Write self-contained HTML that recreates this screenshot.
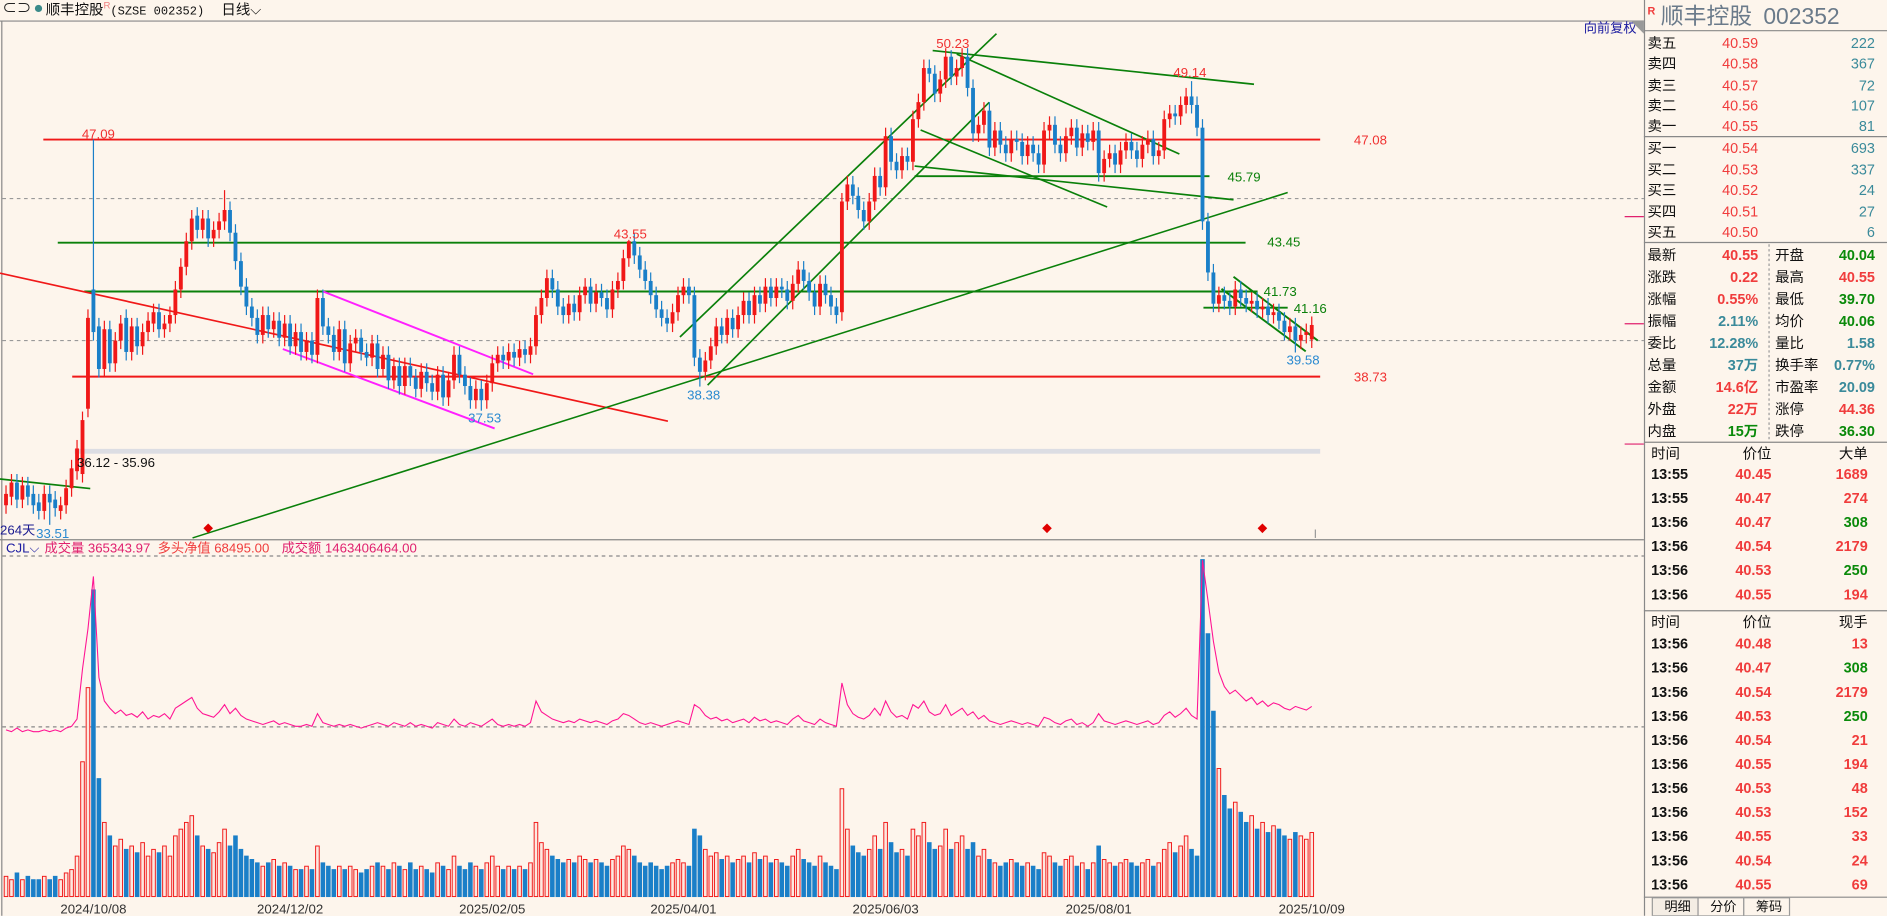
<!DOCTYPE html>
<html><head><meta charset="utf-8">
<style>
html,body{margin:0;padding:0;background:#fdf5ec;overflow:hidden;}
#wrap{width:1568px;height:761px;transform:scale(1.20344);transform-origin:0 0;position:relative;}
svg text{font-family:"Liberation Sans","Noto Sans CJK SC",sans-serif;}
</style></head>
<body>
<div id="wrap">
<svg id="chart" width="1568" height="761" xmlns="http://www.w3.org/2000/svg">
<rect x="0" y="0" width="1568" height="761" fill="#fdf5ec"/>
<g font-size="12">
 <text x="2" y="11" fill="#222">⊂⊃</text>
 <circle cx="32" cy="7" r="3" fill="#3a8a8a"/>
 <text x="38" y="12" fill="#111">顺丰控股<tspan fill="#f08080" font-size="8" dy="-5">R</tspan><tspan dy="5" font-family="Liberation Mono" font-size="10">(SZSE 002352)</tspan></text>
 <text x="184" y="12" fill="#111">日线⌵</text>
</g>
<line x1="0" y1="17.5" x2="1366" y2="17.5" stroke="#888"/>
<line x1="1.5" y1="17" x2="1.5" y2="761" stroke="#888"/>
<line x1="0" y1="448.5" x2="1366" y2="448.5" stroke="#888"/>
<line x1="2" y1="165" x2="1366" y2="165" stroke="#999" stroke-dasharray="3,3"/>
<line x1="2" y1="283" x2="1366" y2="283" stroke="#999" stroke-dasharray="3,3"/>
<line x1="2" y1="462" x2="1366" y2="462" stroke="#888" stroke-dasharray="3,3"/>
<line x1="2" y1="604" x2="1366" y2="604" stroke="#888" stroke-dasharray="3,3"/>
<text x="1316" y="27" font-size="11" fill="#1a1aa0">向前复权</text>
<polygon points="1356,18 1366,18 1366,28" fill="#999"/>
<rect x="62" y="373" width="1035" height="4" fill="#dcdde3"/>
<g id="lines"></g>
<g id="candles"></g>
<g id="labels" font-size="11"></g>
<g id="vol"></g>
<g font-size="11">
 <text x="5" y="459" fill="#1a1aa0">CJL⌵</text>
 <text x="37" y="459" fill="#e0206e">成交量 365343.97</text>
 <text x="131" y="459" fill="#f03c3c">多头净值 68495.00</text>
 <text x="234" y="459" fill="#e0206e">成交额 1463406464.00</text>
</g>
<g id="dates" font-size="11" fill="#333" text-anchor="middle"></g>
<g stroke="#e0206e">
 <line x1="1350" y1="180" x2="1366" y2="180"/><line x1="1350" y1="269" x2="1366" y2="269"/><line x1="1350" y1="369" x2="1366" y2="369"/>
</g>
<line x1="1093" y1="440" x2="1093" y2="447" stroke="#999"/>

<!-- Right panel -->
<g font-size="12">
 <line x1="1366.5" y1="0" x2="1366.5" y2="761" stroke="#888"/>
 <line x1="1366" y1="745.5" x2="1568" y2="745.5" stroke="#888"/>
 <text x="1369" y="12" fill="#f03c3c" font-size="9" font-weight="bold">R</text>
 <text x="1380" y="20" fill="#6a7a8a" font-size="19">顺丰控股 <tspan dx="4">002352</tspan></text>
 <line x1="1366" y1="25.5" x2="1568" y2="25.5" stroke="#888"/>
 <line x1="1366" y1="113.5" x2="1568" y2="113.5" stroke="#888"/>
 <line x1="1366" y1="201.5" x2="1568" y2="201.5" stroke="#888"/>
 <line x1="1366" y1="367.5" x2="1568" y2="367.5" stroke="#888"/>
 <line x1="1366" y1="507.5" x2="1568" y2="507.5" stroke="#888"/>
 <line x1="1470" y1="203" x2="1470" y2="367" stroke="#999" stroke-dasharray="2,2"/>
 <g id="book"></g>
 <g id="stats"></g>
 <g id="ticks"></g>
 <g font-size="11" fill="#111">
  <rect x="1373" y="746" width="38" height="15" fill="#f4ede4" stroke="#999"/>
  <text x="1383" y="757">明细</text>
  <rect x="1411" y="746" width="38" height="15" fill="#fdf5ec" stroke="#999"/>
  <text x="1421" y="757">分价</text>
  <rect x="1449" y="746" width="38" height="15" fill="#fdf5ec" stroke="#999"/>
  <text x="1459" y="757">筹码</text>
 </g>
</g>
</svg>
</div>
<script>
const closes=[34.6,35.0,34.4,34.9,34.5,34.2,34.0,34.6,34.3,34.1,34.2,
34.8,35.5,36.2,37.2,40.8,40.3,
39.0,40.4,39.2,40.0,40.6,39.6,40.5,39.8,40.3,40.7,41.0,40.4,40.6,40.9,
41.8,42.6,43.5,44.3,43.9,44.3,43.6,43.9,44.2,44.6,43.8,
42.8,41.9,41.2,40.8,40.2,40.9,40.4,40.7,40.1,
40.6,39.8,40.3,39.6,40.0,39.5,41.5,40.5,40.2,39.6,40.4,39.2,39.9,40.1,39.6,
39.4,39.9,39.0,39.5,38.6,39.1,38.4,39.1,38.7,38.3,38.9,38.5,38.2,38.8,38.0,38.6,39.5,38.8,38.4,37.9,38.3,37.9,
38.5,39.2,39.5,39.3,39.6,39.4,39.7,39.5,39.8,
40.9,41.5,42.2,41.8,41.2,40.9,41.3,41.0,41.6,41.9,41.3,41.7,41.5,41.1,41.8,42.1,42.9,43.5,
43.0,42.5,42.1,41.6,41.1,40.8,40.6,41.0,41.6,41.9,41.6,39.4,38.9,39.3,
39.8,40.5,40.2,40.8,40.4,40.9,41.4,40.9,41.6,41.3,41.9,41.5,41.9,41.8,41.4,42.0,42.5,42.1,41.7,41.2,42.0,41.6,41.2,40.9,
44.9,45.5,45.1,44.6,44.2,44.9,45.8,45.4,47.2,46.3,46.0,46.5,46.3,
47.8,48.4,49.6,49.4,48.7,49.2,50.0,49.3,49.6,50.0,48.9,47.3,
47.6,48.1,46.8,47.4,46.9,46.6,47.1,47.0,46.5,46.9,46.6,46.2,47.4,47.6,46.9,46.6,47.2,47.5,46.8,47.3,47.0,47.4,45.9,46.4,46.6,46.2,46.7,47.0,46.7,46.4,46.9,47.1,46.5,46.7,47.8,
48.0,47.9,48.3,48.6,48.3,47.5,
44.2,42.4,41.3,
41.6,41.4,41.2,41.8,41.5,41.3,41.4,41.1,41.2,40.9,41.0,40.7,40.3,40.5,40.0,40.2,40.3,40.55];
const opens=[34.2,34.5,35.0,34.4,34.9,34.6,34.3,34.0,34.6,34.4,34.0,
34.2,34.8,35.4,35.3,37.6,41.8,
40.5,39.0,40.4,39.2,40.0,40.8,39.6,40.5,39.8,40.3,40.6,41.0,40.4,40.6,
40.9,41.8,42.6,43.5,44.4,43.9,44.3,43.6,43.9,44.2,44.6,
43.8,42.8,41.9,41.2,40.8,40.2,40.9,40.4,40.7,
40.1,40.6,39.8,40.3,39.6,40.0,39.5,41.5,40.5,40.2,39.6,40.4,39.2,39.9,40.1,
39.6,39.4,39.9,39.0,39.5,38.6,39.1,38.4,39.1,38.7,38.3,38.9,38.5,38.2,38.8,38.0,38.6,39.5,38.8,38.4,37.9,38.3,
37.9,38.5,39.2,39.5,39.3,39.6,39.4,39.7,39.5,
39.8,40.9,41.5,42.2,41.8,41.2,40.9,41.3,41.0,41.6,41.9,41.3,41.7,41.5,41.1,41.8,42.1,42.9,
43.5,43.0,42.5,42.1,41.6,41.1,40.8,40.6,41.0,41.6,41.9,41.6,39.4,38.9,
39.3,39.8,40.5,40.2,40.8,40.4,40.9,41.4,40.9,41.6,41.3,41.9,41.5,41.9,41.8,41.4,42.0,42.5,42.1,41.7,41.2,42.0,41.6,41.2,
41.0,44.9,45.5,45.1,44.6,44.2,44.9,45.8,45.4,47.2,46.3,46.0,46.5,
46.3,47.8,48.4,49.6,49.4,48.7,49.2,50.0,49.3,49.6,50.0,48.9,
47.3,47.6,48.1,46.8,47.4,46.9,46.6,47.1,47.0,46.5,46.9,46.6,46.2,47.4,47.6,46.9,46.6,47.2,47.5,46.8,47.3,47.0,47.4,45.9,46.4,46.6,46.2,46.7,47.0,46.7,46.4,46.9,47.1,46.5,46.7,
47.8,48.0,47.9,48.3,48.6,48.3,
47.5,44.2,42.4,
41.3,41.6,41.4,41.2,41.8,41.5,41.3,41.4,41.1,41.2,40.9,41.0,40.7,40.3,40.5,40.0,40.2,40.04];
const highIdx=[16,40,114,173,217];
const highVal=[47.09,45.3,43.55,50.23,49.14];
const lowIdx=[8,87,127,236];
const lowVal=[33.51,37.53,38.38,39.58];
const volumes=[6,5,7,5,6,5,5,6,5,6,5,7,8,12,
40,62,91,35,
22,18,15,17,14,15,13,16,12,14,13,15,12,
18,20,22,24,18,15,14,13,16,20,15,
18,14,12,11,10,9,10,11,9,
10,9,8,8,9,8,15,10,9,8,9,8,9,8,7,
8,9,10,9,8,10,9,8,10,8,9,8,7,10,9,8,12,9,8,10,9,8,
10,12,9,8,9,8,9,8,10,
22,16,14,12,11,10,11,10,12,11,10,11,10,9,11,12,15,14,
12,10,9,10,9,8,9,10,11,10,9,20,18,14,
12,13,11,12,10,11,12,10,13,11,12,10,11,10,9,12,14,11,10,9,12,10,9,8,
32,20,15,13,12,14,18,14,22,16,13,14,12,
20,18,22,16,14,15,20,14,16,18,14,16,
12,14,11,10,9,10,11,10,9,10,9,8,13,12,10,9,11,12,9,10,8,10,15,11,10,9,10,11,10,9,10,11,9,10,14,
16,13,15,18,14,12,
100,78,55,
38,30,26,28,25,22,24,20,22,19,21,20,18,17,19,18,17,19];
const dateLabels=["2024/10/08","2024/12/02","2025/02/05","2025/04/01","2025/06/03","2025/08/01","2025/10/09"];
const dateIdx=[16,52,89,124,161,200,239];

const NS="http://www.w3.org/2000/svg";
function mk(tag,attrs,parent,txt){const e=document.createElementNS(NS,tag);for(const k in attrs)e.setAttribute(k,attrs[k]);if(txt!==undefined)e.textContent=txt;parent.appendChild(e);return e;}
const N=closes.length;
function xOf(i){return 5+i*(1090-5)/(N-1);}
function yOf(p){return 116+(47.08-p)*23.59;}
function vY(v){return 745-v*2.8;}
const RED="#f01818",BLUE="#1a7fc8",GREEN="#0a800a";

const L=document.getElementById('lines');
function ln(x1,y1,x2,y2,c,w,name){const e=mk('line',{x1,y1,x2,y2,stroke:c,'stroke-width':w},L);

}
ln(36,yOf(47.08),1097,yOf(47.08),RED,1.6,'resistance-47-08');
ln(60,yOf(38.73),1097,yOf(38.73),RED,1.6,'support-38-73');
ln(48,yOf(43.45),1035,yOf(43.45),GREEN,1.6,'level-43-45');
ln(70,yOf(41.73),1045,yOf(41.73),GREEN,1.6,'level-41-73');
ln(760,yOf(45.79),1005,yOf(45.79),GREEN,1.6,'level-45-79');
ln(1000,yOf(41.16),1070,yOf(41.16),GREEN,1.6,'level-41-16');
ln(0,227,555,350,RED,1.4,'red-downtrend');
ln(268,242,443,311,'#ff20ff',1.6,'magenta-channel-upper');
ln(235,290,411,356,'#ff20ff',1.6,'magenta-channel-lower');
ln(160,447,1070,160,GREEN,1.3,'long-uptrend');
ln(0,398,75,406,GREEN,1.4,'early-trend');
ln(565,280,828,28,GREEN,1.4,'rise-channel-upper');
ln(588,320,822,85,GREEN,1.4,'rise-channel-lower');
ln(775,42,1042,70,GREEN,1.4,'top-trend');
ln(795,45,980,128,GREEN,1.4,'wedge-upper');
ln(765,108,920,172,GREEN,1.4,'wedge-lower');
ln(760,138,1025,166,GREEN,1.4,'flag-lower');
ln(1025,230,1095,283,GREEN,1.6,'small-channel-upper');
ln(1015,240,1085,292,GREEN,1.6,'small-channel-lower');

const C=document.getElementById('candles');
for(let i=0;i<N;i++){
  const o=opens[i],c=closes[i];
  let hi=Math.max(o,c)+0.3,lo=Math.min(o,c)-0.3;
  const hk=highIdx.indexOf(i); if(hk>=0) hi=highVal[hk];
  const lk=lowIdx.indexOf(i); if(lk>=0) lo=lowVal[lk];
  const up=c>=o, col=up?RED:BLUE, x=xOf(i);
  const g=mk('g',{},C);
  
  
  mk('line',{x1:x,y1:yOf(hi),x2:x,y2:yOf(lo),stroke:col,'stroke-width':1},g);
  const yt=yOf(Math.max(o,c)),yb=yOf(Math.min(o,c));
  mk('rect',{x:x-1.6,y:yt,width:3.2,height:Math.max(1,yb-yt),fill:col},g);
}

const V=document.getElementById('vol');
let pts=[];
for(let i=0;i<N;i++){
  const up=closes[i]>=opens[i], x=xOf(i), v=volumes[i];
  const r=mk('rect',{x:x-1.5,y:vY(v),width:3,height:745-vY(v),fill:up?'#fde8e0':BLUE,stroke:up?RED:BLUE,'stroke-width':0.8},V);
  
  
  pts.push(x.toFixed(1)+','+(608-(v-5)*1.5).toFixed(1));
}
const pl=mk('polyline',{points:pts.join(' '),fill:'none',stroke:'#ff1493','stroke-width':0.9},V);



const LB=document.getElementById('labels');
function lab(x,y,t,c,name,anchor){const e=mk('text',{x,y,fill:c,'text-anchor':anchor||'start'},LB,t);

}
lab(68,115,'47.09','#f03030','high-label-47-09');
lab(510,198,'43.55','#f03030','high-label-43-55');
lab(778,40,'50.23','#f03030','high-label-50-23');
lab(975,64,'49.14','#f03030','high-label-49-14');
lab(571,332,'38.38','#2a8ad0','low-label-38-38');
lab(389,351,'37.53','#2a8ad0','low-label-37-53');
lab(1069,303,'39.58','#2a8ad0','low-label-39-58');
lab(30,447,'33.51','#2a8ad0','low-label-33-51');
lab(0,444,'264天','#1a1a90','days-label');
lab(64,388,'36.12 - 35.96','#111','gap-label');
lab(1125,120,'47.08','#f03030','level-label-47-08');
lab(1125,317,'38.73','#f03030','level-label-38-73');
lab(1020,151,'45.79',GREEN,'level-label-45-79');
lab(1053,205,'43.45',GREEN,'level-label-43-45');
lab(1050,246,'41.73',GREEN,'level-label-41-73');
lab(1075,260,'41.16',GREEN,'level-label-41-16');
[173,870,1049].forEach(x=>{const d=mk('polygon',{points:`${x},435 ${x+4},439 ${x},443 ${x-4},439`,fill:'#e00000'},LB);

});

const D=document.getElementById('dates');
dateLabels.forEach((t,k)=>{const e=mk('text',{x:xOf(dateIdx[k]),y:759},D,t);

});

const bookLabels=["卖五","卖四","卖三","卖二","卖一","买一","买二","买三","买四","买五"];
const bookPrices=["40.59","40.58","40.57","40.56","40.55","40.54","40.53","40.52","40.51","40.50"];
const bookQty=["222","367","72","107","81","693","337","24","27","6"];
const bookY=[40,57,75,92,109,127,145,162,180,197];
const B=document.getElementById('book');
bookLabels.forEach((t,k)=>{
 const r=mk('g',{},B);
 
 
 mk('text',{x:1369,y:bookY[k],fill:'#111'},r,t);
 mk('text',{x:1461,y:bookY[k],fill:'#f03c3c','text-anchor':'end'},r,bookPrices[k]);
 mk('text',{x:1558,y:bookY[k],fill:'#3a8a9a','text-anchor':'end'},r,bookQty[k]);
});
const sL=["最新","涨跌","涨幅","振幅","委比","总量","金额","外盘","内盘"];
const sLV=["40.55","0.22","0.55%","2.11%","12.28%","37万","14.6亿","22万","15万"];
const sLC=["#f03c3c","#f03c3c","#f03c3c","#3a8a9a","#3a8a9a","#3a8a9a","#f03c3c","#f03c3c","#0a8a0a"];
const sR=["开盘","最高","最低","均价","量比","换手率","市盈率","涨停","跌停"];
const sRV=["40.04","40.55","39.70","40.06","1.58","0.77%","20.09","44.36","36.30"];
const sRC=["#0a8a0a","#f03c3c","#0a8a0a","#0a8a0a","#3a8a9a","#3a8a9a","#3a8a9a","#f03c3c","#0a8a0a"];
const S=document.getElementById('stats');
sL.forEach((t,k)=>{const y=216+k*18.3;
 const r=mk('g',{},S);
 
 
 mk('text',{x:1369,y,fill:'#111'},r,t);
 mk('text',{x:1461,y,fill:sLC[k],'text-anchor':'end','font-weight':'bold'},r,sLV[k]);
 mk('text',{x:1475,y,fill:'#111'},r,sR[k]);
 mk('text',{x:1558,y,fill:sRC[k],'text-anchor':'end','font-weight':'bold'},r,sRV[k]);
});
const T=document.getElementById('ticks');
function table(y0,hdr,times,prices,qtys,qcols,y1,step){
 const h=mk('g',{},T);
 
 
 mk('text',{x:1372,y:y0,fill:'#111'},h,'时间');
 mk('text',{x:1472,y:y0,fill:'#111','text-anchor':'end'},h,'价位');
 mk('text',{x:1552,y:y0,fill:'#111','text-anchor':'end'},h,hdr);
 times.forEach((t,k)=>{const y=y1+k*step;
  const r=mk('g',{'font-weight':'bold'},T);
  
  
  mk('text',{x:1372,y,fill:'#111'},r,t);
  mk('text',{x:1472,y,fill:'#f03c3c','text-anchor':'end'},r,prices[k]);
  mk('text',{x:1552,y,fill:qcols[k],'text-anchor':'end'},r,qtys[k]);
 });
}
const t1Times=["13:55","13:55","13:56","13:56","13:56","13:56"];
const t1Prices=["40.45","40.47","40.47","40.54","40.53","40.55"];
const t1Qty=["1689","274","308","2179","250","194"];
const t1Col=["#f03c3c","#f03c3c","#0a8a0a","#f03c3c","#0a8a0a","#f03c3c"];
table(381,'大单',t1Times,t1Prices,t1Qty,t1Col,398,20);
const t2Times=["13:56","13:56","13:56","13:56","13:56","13:56","13:56","13:56","13:56","13:56","13:56"];
const t2Prices=["40.48","40.47","40.54","40.53","40.54","40.55","40.53","40.53","40.55","40.54","40.55"];
const t2Qty=["13","308","2179","250","21","194","48","152","33","24","69"];
const t2Col=["#f03c3c","#0a8a0a","#f03c3c","#0a8a0a","#f03c3c","#f03c3c","#f03c3c","#f03c3c","#f03c3c","#f03c3c","#f03c3c"];
table(521,'现手',t2Times,t2Prices,t2Qty,t2Col,539,20);
</script>
</body></html>
